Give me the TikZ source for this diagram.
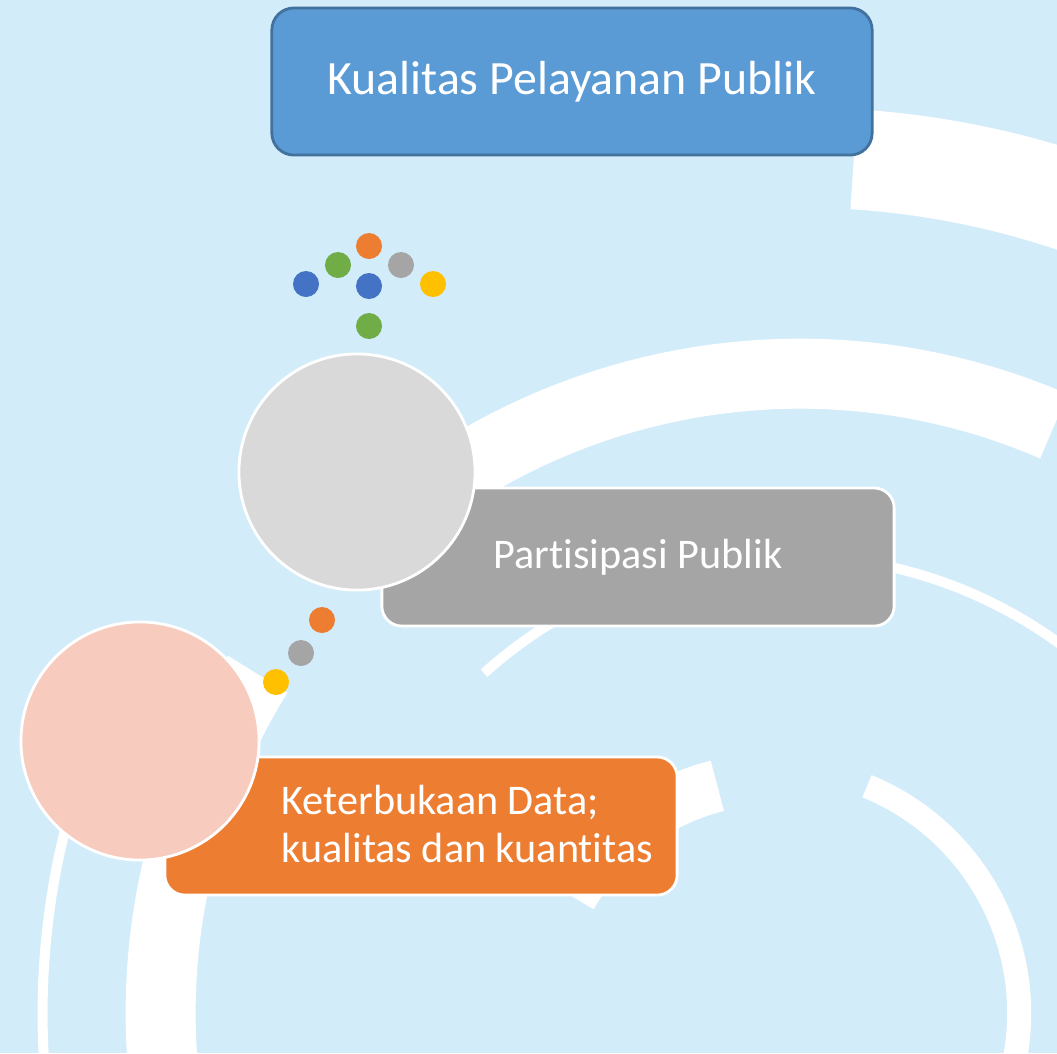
\documentclass[tikz,border=0pt]{standalone}
\usepackage{fontspec}
\setmainfont{Carlito}[Ligatures=NoCommon]
\definecolor{bgblue}{HTML}{D3ECFA}
\definecolor{topblue}{HTML}{5B9BD5}
\definecolor{topedge}{HTML}{41719C}
\definecolor{dotblue}{HTML}{4472C4}
\definecolor{dotgreen}{HTML}{70AD47}
\definecolor{dotorange}{HTML}{ED7D31}
\definecolor{dotgray}{HTML}{A5A5A5}
\definecolor{dotyellow}{HTML}{FFC000}
\definecolor{lightgray}{HTML}{D9D9D9}
\definecolor{lightpink}{HTML}{F7CCBF}
\begin{document}
\begin{tikzpicture}[x=0.01cm,y=-0.01cm,
  ring/.style={draw=white,line cap=butt},
  box/.style={rectangle,rounded corners=0.2cm,draw=white,line width=0.8pt,minimum width=5.12cm,minimum height=1.38cm,text=white},
  bubble/.style={circle,draw=white,line width=0.8pt,inner sep=0pt},
  dot/.style={circle,inner sep=0pt,minimum size=0.26cm}]
\useasboundingbox (0,0) rectangle (1057,1053);
\fill[bgblue] (0,0) rectangle (1057,1053);
% white rings in the background
\begin{scope}
\clip (0,0) rectangle (1057,1053);
\draw[ring,line width=1cm] (800,1013) ++(86.4:8.55cm) arc[start angle=86.4,end angle=55,radius=8.55cm];
\draw[ring,line width=0.7cm] (800,1013) ++(66.6:6.39cm) arc[start angle=66.6,end angle=128,radius=6.39cm];
\draw[ring,line width=0.7cm] (800,1013) ++(148:6.39cm) arc[start angle=148,end angle=195,radius=6.39cm];
\draw[ring,line width=0.1cm] (790,1013) ++(132:4.57cm) arc[start angle=132,end angle=40,radius=4.57cm];
\draw[ring,line width=0.1cm] (800,1013) ++(160:7.57cm) arc[start angle=160,end angle=195,radius=7.57cm];
\draw[ring,line width=0.24cm] (774,1013) ++(67.7:2.45cm) arc[start angle=67.7,end angle=-20,radius=2.45cm];
\draw[ring,line width=0.52cm] (774,1013) ++(104:2.34cm) arc[start angle=104,end angle=150,radius=2.34cm];
\end{scope}

\node[box,fill=topblue,draw=topedge,minimum width=6cm,minimum height=1.47cm,rounded corners=0.22cm,font=\fontsize{13.6}{16}\selectfont] (kualitas) at (572,81.5) {Kualitas Pelayanan Publik};

\node[dot,fill=dotorange] (d1) at (369,246) {};
\node[dot,fill=dotgreen] (d2) at (338,265) {};
\node[dot,fill=dotgray] (d3) at (401,265) {};
\node[dot,fill=dotblue] (d4) at (306,284) {};
\node[dot,fill=dotblue] (d5) at (369,286) {};
\node[dot,fill=dotyellow] (d6) at (433,284) {};
\node[dot,fill=dotgreen] (d7) at (369,326) {};

\node[box,fill=dotgray,font=\fontsize{12}{14}\selectfont] (partisipasi) at (638,557) {Partisipasi Publik};
\node[bubble,fill=lightgray,minimum size=2.36cm] (cpartisipasi) at (357,472) {};

\node[dot,fill=dotorange] (e1) at (322,620) {};
\node[dot,fill=dotgray] (e2) at (301,653) {};
\node[dot,fill=dotyellow] (e3) at (276,682) {};

\node[box,fill=dotorange] (keterbukaan) at (421,826) {};
\node[bubble,fill=lightpink,minimum size=2.38cm] (cketerbukaan) at (140,741) {};
\node[anchor=west,align=left,inner sep=0pt,text=white,font=\fontsize{12}{13.4}\selectfont] (tketerbukaan) at (281,824) {Keterbukaan Data;\\kualitas dan kuantitas};

\end{tikzpicture}
\end{document}
